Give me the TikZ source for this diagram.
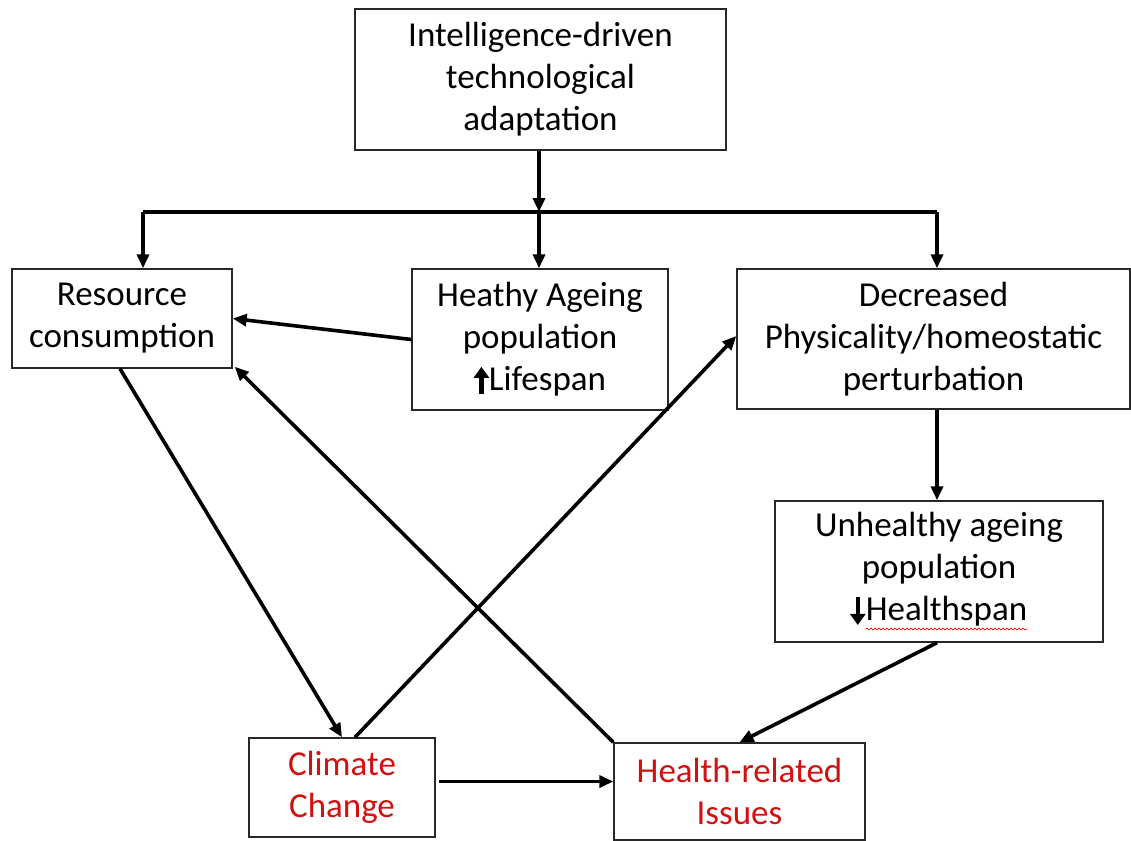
\documentclass[tikz,border=0pt]{standalone}
\usepackage{fontspec}
\setmainfont{Carlito}
\usetikzlibrary{arrows.meta,decorations.pathmorphing,calc}
\definecolor{redtxt}{RGB}{210,16,16}
\definecolor{boxline}{RGB}{40,40,40}
\tikzset{glyph/.style={black,line width=4.5pt,-{Triangle[length=11pt,width=15pt]}}}
\newcommand{\uparr}{\tikz[baseline=0pt]\draw[glyph] (0pt,-3pt)--(0pt,24pt);}
\newcommand{\downarr}{\tikz[baseline=0pt]\draw[glyph] (0pt,24pt)--(0pt,-4pt);}
\begin{document}
\begin{tikzpicture}[x=1pt,y=-1pt,
  box/.style={draw=boxline,line width=1.4pt,rectangle,align=center,inner sep=0pt,
    font=\fontsize{35}{42}\selectfont},
  conn/.style={line width=3.6pt,-{Triangle[length=14pt,width=12pt]}},
  plain/.style={line width=3.6pt}]
\useasboundingbox (0,0) rectangle (1131,840);
\node[box,minimum width=371pt,minimum height=141pt] (top) at (540.5,79.5)
  {Intelligence-driven\\technological\\adaptation};
\node[box,minimum width=220pt,minimum height=99pt] (res) at (122,318.5)
  {Resource\\consumption};
\node[box,minimum width=256pt,minimum height=141pt] (hea) at (540,339.5)
  {Heathy Ageing\\population\\\uparr Lifespan};
\node[box,minimum width=393pt,minimum height=140pt] (dec) at (933.5,339)
  {Decreased\\Physicality/homeostatic\\perturbation};
\node[box,minimum width=328pt,minimum height=141pt] (unh) at (939,571.5)
  {Unhealthy ageing\\population\\\downarr\tikz[baseline=(hs.base)]{\node[draw=none,inner sep=0pt,minimum width=0pt,minimum height=0pt,font=\fontsize{35}{42}\selectfont] (hs) {Healthspan};
   \draw[red,line width=0.7pt,decorate,decoration={snake,amplitude=1pt,segment length=4pt}] ([yshift=-8pt]hs.base west) -- ([yshift=-8pt]hs.base east);}};
\node[box,minimum width=186pt,minimum height=99pt,text=redtxt] (clim) at (342,787.5)
  {Climate\\Change};
\node[box,minimum width=251pt,minimum height=97pt,text=redtxt] (hr) at (739.5,791.5)
  {Health-related\\Issues};
% branching from top box
\coordinate (j1) at (143,212);
\coordinate (j2) at (539,212);
\coordinate (j3) at (937,212);
\draw[conn] (j2 |- top.south) -- (j2);
\draw[plain] (j1) -- (j3);
\draw[conn] (j1) -- (j1 |- res.north);
\draw[conn] (j2) -- (j2 |- hea.north);
\draw[conn] (j3) -- (j3 |- dec.north);
% other links
\draw[conn] (hea.west) -- (res.east);
\draw[conn] ([xshift=-2pt]res.south) -- (clim.north);
\draw[conn] ([xshift=13pt]clim.north) -- ([yshift=3pt]dec.west);
\draw[conn] (hr.north west) -- ([xshift=2pt,yshift=2pt]res.south east);
\draw[conn] (j3 |- dec.south) -- (j3 |- unh.north);
\draw[conn] (j3 |- unh.south) -- (hr.north);
\coordinate (cc) at ([xshift=3pt,yshift=6pt]clim.east);
\draw[conn] (cc) -- (hr.west |- cc);
\end{tikzpicture}
\end{document}
